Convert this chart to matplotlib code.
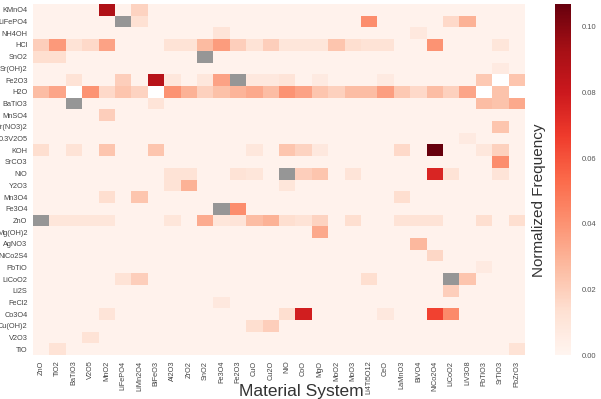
import numpy as np
import matplotlib
matplotlib.use("Agg")
import matplotlib.pyplot as plt
from matplotlib.colors import ListedColormap

plt.rcParams['font.family'] = ['Liberation Sans', 'DejaVu Sans']

# precursors (rows) and material systems (columns)
precursors = ["KMnO4", "LiFePO4", "NH4OH", "HCl", "SnO2", "Sr(OH)2", "Fe2O3", "H2O",
              "BaTiO3", "MnSO4", "Sr(NO3)2", "0.3V2O5", "KOH", "SrCO3", "NiO", "Y2O3",
              "Mn3O4", "Fe3O4", "ZnO", "Mg(OH)2", "AgNO3", "NiCo2S4", "PbTiO", "LiCoO2",
              "Li2S", "FeCl2", "Co3O4", "Cu(OH)2", "V2O3", "TiO"]
materials = ["ZnO", "TiO2", "BaTiO3", "V2O5", "MnO2", "LiFePO4", "LiMn2O4", "BiFeO3",
             "Al2O3", "ZrO2", "SnO2", "Fe3O4", "Fe2O3", "CuO", "Cu2O", "NiO", "CoO", "MgO",
             "MoO2", "MoO3", "Li4Ti5O12", "CeO", "LaMnO3", "BiVO4", "NiCo2O4", "LiCoO2",
             "LiV3O8", "PbTiO3", "SrTiO3", "PbZrO3"]

base_value = 0.002
# (precursor, material system, normalized frequency)
cells = [
    ("KMnO4", "MnO2", 0.090), ("KMnO4", "LiMn2O4", 0.018),
    ("LiFePO4", "LiMn2O4", 0.013), ("LiFePO4", "Li4Ti5O12", 0.042),
    ("LiFePO4", "LiCoO2", 0.016), ("LiFePO4", "LiV3O8", 0.030),
    ("NH4OH", "Fe3O4", 0.011), ("NH4OH", "BiVO4", 0.008),
    ("HCl", "ZnO", 0.020), ("HCl", "TiO2", 0.038), ("HCl", "BaTiO3", 0.012),
    ("HCl", "V2O5", 0.016), ("HCl", "MnO2", 0.035), ("HCl", "Al2O3", 0.012),
    ("HCl", "ZrO2", 0.012), ("HCl", "SnO2", 0.027), ("HCl", "Fe3O4", 0.037),
    ("HCl", "Fe2O3", 0.020), ("HCl", "CuO", 0.012), ("HCl", "Cu2O", 0.020),
    ("HCl", "NiO", 0.010), ("HCl", "CoO", 0.010), ("HCl", "MgO", 0.010),
    ("HCl", "MoO2", 0.023), ("HCl", "MoO3", 0.014), ("HCl", "Li4Ti5O12", 0.012),
    ("HCl", "CeO", 0.012), ("HCl", "NiCo2O4", 0.040), ("HCl", "SrTiO3", 0.010),
    ("SnO2", "ZnO", 0.014), ("SnO2", "TiO2", 0.014),
    ("Sr(OH)2", "SrTiO3", 0.007),
    ("Fe2O3", "BaTiO3", 0.012), ("Fe2O3", "LiFePO4", 0.020), ("Fe2O3", "BiFeO3", 0.087),
    ("Fe2O3", "Al2O3", 0.009), ("Fe2O3", "SnO2", 0.009), ("Fe2O3", "Fe3O4", 0.035),
    ("Fe2O3", "CuO", 0.008), ("Fe2O3", "Cu2O", 0.008), ("Fe2O3", "NiO", 0.011),
    ("Fe2O3", "MgO", 0.007), ("Fe2O3", "CeO", 0.007), ("Fe2O3", "PbTiO3", 0.022),
    ("Fe2O3", "SrTiO3", np.nan), ("Fe2O3", "PbZrO3", 0.023),
    ("H2O", "ZnO", 0.026), ("H2O", "TiO2", 0.034), ("H2O", "BaTiO3", np.nan),
    ("H2O", "V2O5", 0.040), ("H2O", "MnO2", 0.016), ("H2O", "LiFePO4", 0.023),
    ("H2O", "LiMn2O4", 0.018), ("H2O", "BiFeO3", np.nan), ("H2O", "Al2O3", 0.040),
    ("H2O", "ZrO2", 0.030), ("H2O", "SnO2", 0.019), ("H2O", "Fe3O4", 0.025),
    ("H2O", "Fe2O3", 0.029), ("H2O", "CuO", 0.033), ("H2O", "Cu2O", 0.026),
    ("H2O", "NiO", 0.040), ("H2O", "CoO", 0.035), ("H2O", "MgO", 0.023),
    ("H2O", "MoO2", 0.019), ("H2O", "MoO3", 0.026), ("H2O", "Li4Ti5O12", 0.026),
    ("H2O", "CeO", 0.036), ("H2O", "LaMnO3", 0.022), ("H2O", "BiVO4", 0.016),
    ("H2O", "NiCo2O4", 0.026), ("H2O", "LiCoO2", 0.019), ("H2O", "LiV3O8", 0.034),
    ("H2O", "PbTiO3", np.nan), ("H2O", "SrTiO3", 0.024), ("H2O", "PbZrO3", np.nan),
    ("BaTiO3", "BiFeO3", 0.011), ("BaTiO3", "PbTiO3", 0.026),
    ("BaTiO3", "SrTiO3", 0.024), ("BaTiO3", "PbZrO3", 0.033),
    ("MnSO4", "MnO2", 0.020),
    ("Sr(NO3)2", "SrTiO3", 0.023),
    ("0.3V2O5", "LiV3O8", 0.007),
    ("KOH", "ZnO", 0.014), ("KOH", "BaTiO3", 0.012), ("KOH", "MnO2", 0.023),
    ("KOH", "BiFeO3", 0.023), ("KOH", "CuO", 0.009), ("KOH", "NiO", 0.023),
    ("KOH", "CoO", 0.018), ("KOH", "MgO", 0.008), ("KOH", "LaMnO3", 0.016),
    ("KOH", "NiCo2O4", 0.107), ("KOH", "PbTiO3", 0.009), ("KOH", "SrTiO3", 0.019),
    ("SrCO3", "SrTiO3", 0.042),
    ("NiO", "Al2O3", 0.012), ("NiO", "ZrO2", 0.012), ("NiO", "Fe2O3", 0.012),
    ("NiO", "CuO", 0.010), ("NiO", "CoO", 0.020), ("NiO", "MgO", 0.023),
    ("NiO", "MoO3", 0.011), ("NiO", "NiCo2O4", 0.075), ("NiO", "LiCoO2", 0.012),
    ("NiO", "SrTiO3", 0.011),
    ("Y2O3", "Al2O3", 0.012), ("Y2O3", "ZrO2", 0.030), ("Y2O3", "NiO", 0.010),
    ("Mn3O4", "MnO2", 0.014), ("Mn3O4", "LiMn2O4", 0.023), ("Mn3O4", "LaMnO3", 0.014),
    ("Fe3O4", "Fe2O3", 0.042),
    ("ZnO", "TiO2", 0.010), ("ZnO", "BaTiO3", 0.010), ("ZnO", "V2O5", 0.010),
    ("ZnO", "MnO2", 0.010), ("ZnO", "Al2O3", 0.010), ("ZnO", "SnO2", 0.032),
    ("ZnO", "Fe3O4", 0.010), ("ZnO", "Fe2O3", 0.011), ("ZnO", "CuO", 0.026),
    ("ZnO", "Cu2O", 0.030), ("ZnO", "NiO", 0.014), ("ZnO", "CoO", 0.012),
    ("ZnO", "MgO", 0.018), ("ZnO", "MoO3", 0.014), ("ZnO", "LaMnO3", 0.012),
    ("ZnO", "BiVO4", 0.012), ("ZnO", "NiCo2O4", 0.012), ("ZnO", "PbTiO3", 0.014),
    ("ZnO", "PbZrO3", 0.014),
    ("Mg(OH)2", "MgO", 0.033),
    ("AgNO3", "BiVO4", 0.028),
    ("NiCo2S4", "NiCo2O4", 0.017),
    ("PbTiO", "PbTiO3", 0.007),
    ("LiCoO2", "LiFePO4", 0.012), ("LiCoO2", "LiMn2O4", 0.020),
    ("LiCoO2", "Li4Ti5O12", 0.014), ("LiCoO2", "LiV3O8", 0.023),
    ("Li2S", "LiCoO2", 0.020),
    ("FeCl2", "Fe3O4", 0.008),
    ("Co3O4", "MnO2", 0.011), ("Co3O4", "NiO", 0.014), ("Co3O4", "CoO", 0.078),
    ("Co3O4", "CeO", 0.008), ("Co3O4", "NiCo2O4", 0.065), ("Co3O4", "LiCoO2", 0.043),
    ("Cu(OH)2", "CuO", 0.014), ("Cu(OH)2", "Cu2O", 0.020),
    ("V2O3", "V2O5", 0.012),
    ("TiO", "TiO2", 0.012), ("TiO", "PbZrO3", 0.012),
]

n_r, n_c = len(precursors), len(materials)
freq = np.full((n_r, n_c), base_value)
for p, m, v in cells:
    freq[precursors.index(p), materials.index(m)] = v

# same compound on both axes is shown in gray
same = np.array([[p == m for m in materials] for p in precursors])
freq[same] = np.nan

fig = plt.figure(figsize=(6.01, 3.99), dpi=100)
ax = fig.add_axes([0.055, 0.110, 0.8185, 0.880])
cax = fig.add_axes([0.923, 0.110, 0.027, 0.880])

mesh = ax.pcolormesh(np.ma.masked_invalid(freq), cmap="Reds", vmin=0, vmax=0.107)
gray = np.ma.masked_where(~same, np.ones((n_r, n_c)))
ax.pcolormesh(gray, cmap=ListedColormap(["#969696"]), vmin=0, vmax=1)
ax.set_facecolor("white")
ax.set_xlim(0, n_c)
ax.set_ylim(n_r, 0)

ax.set_xticks(np.arange(n_c) + 0.5)
ax.set_xticklabels(materials, rotation=90, fontsize=5.3, color="#444444")
ax.set_yticks(np.arange(n_r) + 0.5)
ax.set_yticklabels(precursors, fontsize=5.3, color="#444444")
ax.tick_params(length=0, pad=4)
for s in ax.spines.values():
    s.set_visible(False)
ax.set_xlabel("Material System", fontsize=12.5, color="#333333")
ax.xaxis.set_label_coords(0.546, -0.082)

cbar = fig.colorbar(mesh, cax=cax)
cbar.outline.set_visible(False)
cbar.set_ticks([0.0, 0.02, 0.04, 0.06, 0.08, 0.10])
cbar.ax.tick_params(labelsize=5.5, length=0, labelcolor="#555555", pad=8)
cbar.ax.yaxis.set_label_position("left")
cbar.set_label("Normalized Frequency", fontsize=11, color="#333333")
cbar.ax.yaxis.set_label_coords(-0.55, 0.44)

fig.savefig("out.png", dpi=100)
